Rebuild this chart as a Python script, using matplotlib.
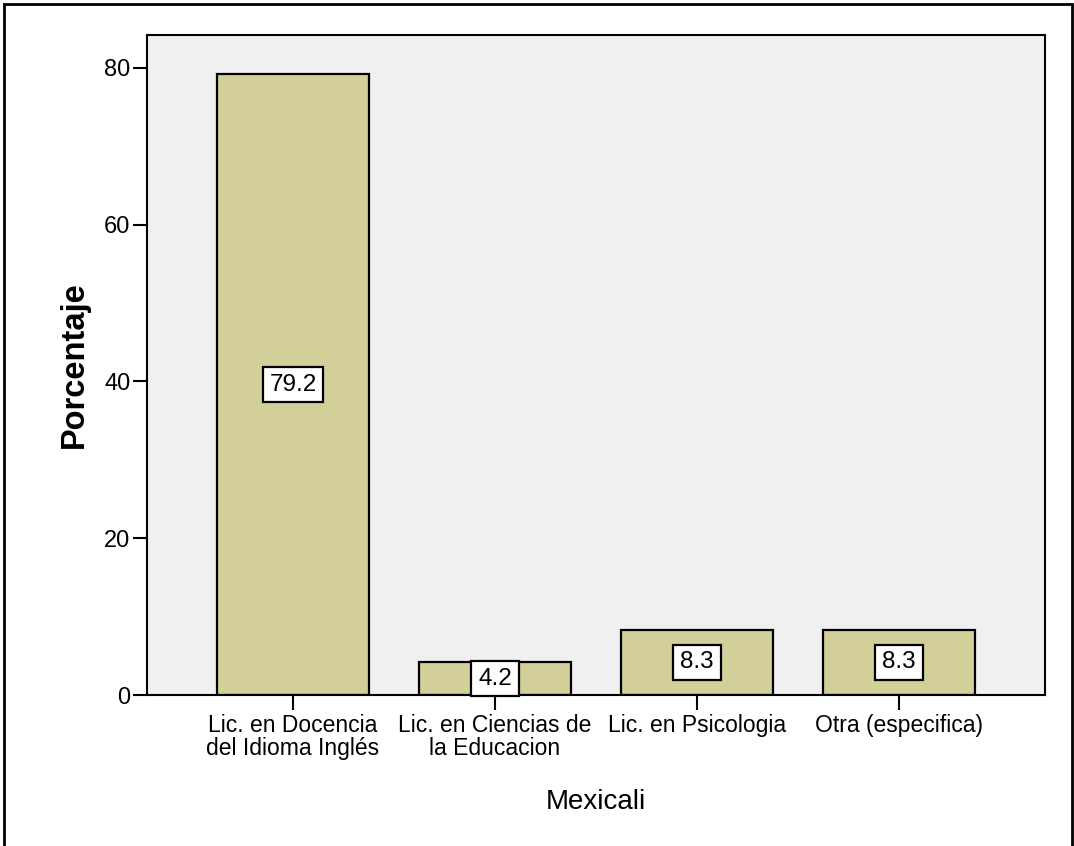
import matplotlib
matplotlib.use("Agg")
import matplotlib.pyplot as plt
from matplotlib.patches import Rectangle

plt.rcParams["font.family"] = ["Liberation Sans", "DejaVu Sans"]

categories = ["Lic. en Docencia\ndel Idioma Inglés",
              "Lic. en Ciencias de\nla Educacion",
              "Lic. en Psicologia",
              "Otra (especifica)"]
porcentaje = [79.2, 4.2, 8.3, 8.3]
y_ticks = [0, 20, 40, 60, 80]


def main():
    fig = plt.figure(figsize=(10.74, 8.46), dpi=100)
    ax = fig.add_axes([147 / 1074, 151 / 846, 898 / 1074, 660 / 846])
    ax.set_facecolor("#f0f0f0")

    x = range(len(categories))
    bars = ax.bar(x, porcentaje, width=0.75, color="#d3cf98",
                  edgecolor="black", linewidth=1.6, zorder=2)
    ax.bar_label(bars, labels=[f"{v:.1f}" for v in porcentaje],
                 label_type="center", fontsize=17.5,
                 bbox=dict(boxstyle="square,pad=0.28", fc="white",
                           ec="black", lw=1.6))

    ax.set_xlim(-0.723, 3.723)
    ax.set_ylim(0, 84.2)
    ax.set_xticks(list(x))
    ax.set_xticklabels(categories, fontsize=16.5, linespacing=0.95)
    ax.set_yticks(y_ticks)
    ax.tick_params(axis="y", labelsize=17, length=10, width=1.5, pad=2)
    ax.tick_params(axis="x", length=11, width=1.5, pad=3)

    for side in ax.spines.values():
        side.set_linewidth(1.5)

    ax.set_ylabel("Porcentaje", fontsize=23.5, fontweight="bold", labelpad=10)
    ax.set_xlabel("Mexicali", fontsize=20, labelpad=21)

    # outer frame around the chart
    fig.patches.append(Rectangle((4 / 1074, -0.05), 1068 / 1074, 1.05 - 4 / 846,
                                 transform=fig.transFigure, fill=False,
                                 ec="black", lw=2))

    fig.savefig("out.png", dpi=100)


if __name__ == "__main__":
    main()
